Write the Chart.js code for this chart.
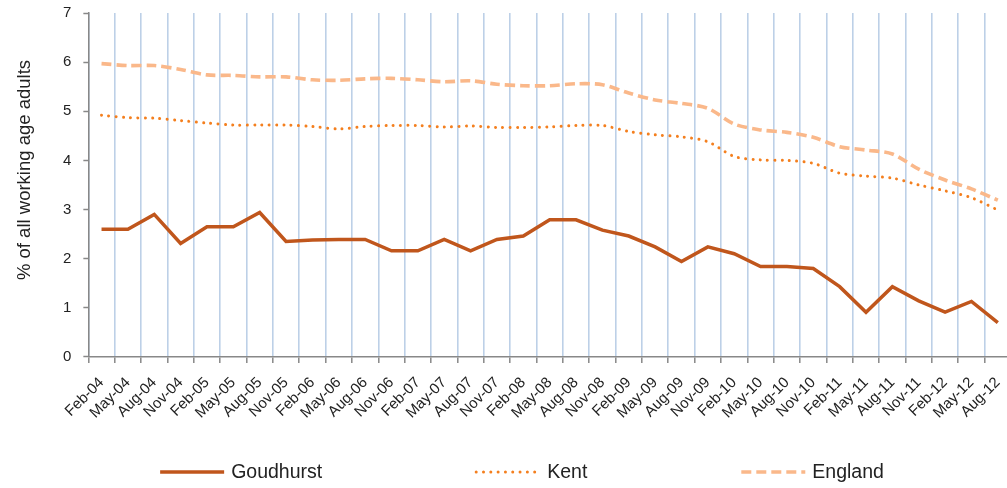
<!DOCTYPE html>
<html>
<head>
<meta charset="utf-8">
<script src="https://cdn.jsdelivr.net/npm/chart.js@4/dist/chart.umd.min.js"></script>
<style>
  html, body { margin: 0; padding: 0; background: #fff; overflow: hidden; }
  #wrap { position: relative; width: 1011px; height: 488px; }
</style>
</head>
<body>
<div id="wrap"><canvas id="c"></canvas></div>
<script>
const categories = ["Feb-04","May-04","Aug-04","Nov-04","Feb-05","May-05","Aug-05","Nov-05",
  "Feb-06","May-06","Aug-06","Nov-06","Feb-07","May-07","Aug-07","Nov-07",
  "Feb-08","May-08","Aug-08","Nov-08","Feb-09","May-09","Aug-09","Nov-09",
  "Feb-10","May-10","Aug-10","Nov-10","Feb-11","May-11","Aug-11","Nov-11",
  "Feb-12","May-12","Aug-12"];
const goudhurst = [2.60,2.60,2.90,2.31,2.65,2.65,2.94,2.35,2.38,2.39,2.39,2.16,2.16,2.39,2.16,2.39,
  2.46,2.79,2.79,2.58,2.46,2.24,1.94,2.24,2.10,1.84,1.84,1.80,1.43,0.91,1.43,1.14,0.91,1.13,0.70];
const kent = [4.92,4.87,4.86,4.81,4.76,4.72,4.72,4.72,4.69,4.64,4.69,4.71,4.71,4.68,4.70,4.67,
  4.67,4.68,4.71,4.71,4.59,4.52,4.48,4.38,4.08,4.01,4.00,3.94,3.74,3.68,3.64,3.50,3.38,3.24,2.99];
const england = [5.97,5.93,5.93,5.85,5.74,5.73,5.70,5.70,5.64,5.63,5.66,5.67,5.64,5.60,5.62,5.55,
  5.52,5.52,5.56,5.54,5.37,5.23,5.16,5.06,4.74,4.62,4.57,4.47,4.28,4.21,4.13,3.82,3.60,3.42,3.19];
const seriesNames = ["Goudhurst", "Kent", "England"];
const yTicks = [0,1,2,3,4,5,6,7];
const yTitle = "% of all working age adults";

Chart.defaults.font.family = "'Liberation Sans', Arial, sans-serif";
Chart.defaults.color = "#222";

const decorPlugin = {
  id: 'decor',
  afterDraw(chart) {
    const ctx = chart.ctx;
    // y-axis title
    ctx.save();
    ctx.font = "18.5px 'Liberation Sans', Arial, sans-serif";
    ctx.fillStyle = '#222';
    ctx.textAlign = 'center';
    ctx.textBaseline = 'middle';
    ctx.translate(25, chart.chartArea.top + 157);
    ctx.rotate(-Math.PI / 2);
    ctx.fillText(yTitle, 0, 0);
    ctx.restore();
    // legend
    const lineLen = 64, gapText = 7, gapItem = 154;
    ctx.save();
    ctx.font = "19.5px 'Liberation Sans', Arial, sans-serif";
    ctx.textBaseline = 'middle';
    const items = chart.data.datasets.map(ds => ({ds, w: lineLen + gapText + ctx.measureText(ds.label).width}));
    const total = items.reduce((s, it) => s + it.w, 0) + gapItem * (items.length - 1);
    let x = 522 - total / 2;
    const y = chart.height - 16;
    items.forEach(it => {
      const ds = it.ds;
      ctx.beginPath();
      ctx.strokeStyle = ds.borderColor;
      ctx.lineWidth = ds.borderWidth;
      ctx.setLineDash(ds.borderDash || []);
      ctx.lineCap = ds.borderCapStyle || 'butt';
      ctx.moveTo(x, y);
      ctx.lineTo(x + lineLen, y);
      ctx.stroke();
      ctx.setLineDash([]);
      ctx.fillStyle = '#222';
      ctx.fillText(ds.label, x + lineLen + gapText, y + 1);
      x += it.w + gapItem;
    });
    ctx.restore();
  }
};

new Chart(document.getElementById('c'), {
  type: 'line',
  data: {
    labels: categories,
    datasets: [
      { label: seriesNames[0], data: goudhurst, borderColor: '#C0561C', borderWidth: 3.5,
        pointRadius: 0, tension: 0, borderJoinStyle: 'miter', borderCapStyle: 'butt' },
      { label: seriesNames[1], data: kent, borderColor: '#F47F1E', borderWidth: 3,
        borderDash: [0.01, 7.3], borderCapStyle: 'round', pointRadius: 0, tension: 0.3 },
      { label: seriesNames[2], data: england, borderColor: '#FAB88A', borderWidth: 3.6,
        borderDash: [10, 5], borderCapStyle: 'butt', pointRadius: 0, tension: 0.3 }
    ]
  },
  options: {
    responsive: true,
    maintainAspectRatio: false,
    animation: false,
    layout: { padding: { left: 51, right: 0, top: 0, bottom: 55 } },
    plugins: { legend: { display: false }, tooltip: { enabled: false } },
    scales: {
      x: {
        type: 'category',
        offset: true,
        afterFit(axis) { axis.paddingLeft = 0; axis.paddingRight = 0; },
        grid: { offset: true, color: '#BDD0E7', lineWidth: 1.6, drawTicks: true,
                tickLength: 6, tickColor: '#888', tickWidth: 1.5 },
        border: { color: '#888', width: 1.5 },
        ticks: { minRotation: 45, maxRotation: 45, autoSkip: false, padding: 11,
                 font: { size: 15 }, color: '#222' }
      },
      y: {
        min: 0, max: 7,
        afterBuildTicks(axis) { axis.ticks = yTicks.map(v => ({ value: v })); },
        afterFit(axis) { axis.paddingTop = 13; axis.paddingBottom = 8; },
        grid: { drawOnChartArea: false, drawTicks: true, tickLength: 5, tickColor: '#888', tickWidth: 1.5 },
        border: { color: '#888', width: 1.5 },
        ticks: { padding: 12, font: { size: 15 }, color: '#222' },
        title: { display: false }
      }
    }
  },
  plugins: [decorPlugin]
});
</script>
</body>
</html>
